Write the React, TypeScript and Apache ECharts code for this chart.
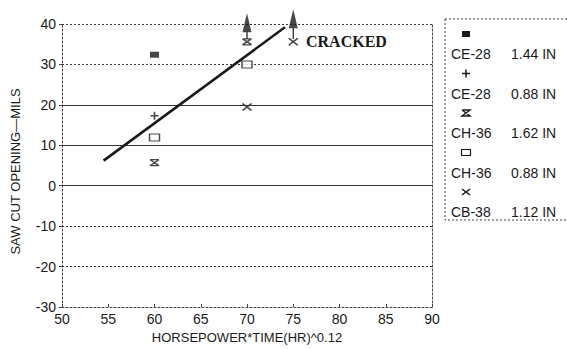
import React, { useEffect, useRef } from "react";
import * as echarts from "echarts";

// ---- data ----
const xTicks = [50, 55, 60, 65, 70, 75, 80, 85, 90];
const yTicks = [-30, -20, -10, 0, 10, 20, 30, 40];
const solidGridValues = [0, 10, 20];

const ce28_144 = [[60, 32.4]];
const ce28_088 = [[60, 17.3]];
const ch36_162 = [[60, 5.7], [70, 35.6]];
const ch36_088 = [[60, 11.9], [70, 30.0]];
const cb38_112 = [[70, 19.5], [75, 35.6]];
const fitLine = [[54.5, 6.2], [74.1, 39.2]];
const arrowStems = [
  [[70, 36.3], [70, 38.2]],
  [[75, 36.3], [75, 39.0]],
];
const arrowHeads = [[70, 40.3], [75, 41.3]];

const legendItems = [
  { label: "CE-28", size: "1.44 IN" },
  { label: "CE-28", size: "0.88 IN" },
  { label: "CH-36", size: "1.62 IN" },
  { label: "CH-36", size: "0.88 IN" },
  { label: "CB-38", size: "1.12 IN" },
];

const INK = "#1a1a1a";
const FONT = "'Liberation Sans', Arial, sans-serif";

const SYM_PLUS = "path://M5,0L5,10M0,5L10,5";
const SYM_HOURGLASS = "path://M0,0L10,0M0,10L10,10M0,0L10,10M10,0L0,10";
const SYM_X = "path://M0,0L10,10M10,0L0,10";

export default function App() {
  const ref = useRef<HTMLDivElement>(null);

  useEffect(() => {
    if (!ref.current) return;
    const chart = echarts.init(ref.current, null, { renderer: "svg" });

    const strokeStyle = (w: number) => ({
      color: "rgba(0,0,0,0)",
      borderColor: INK,
      borderWidth: w,
    });

    const legendGraphics: any[] = [
      {
        type: "rect",
        shape: { x: 445, y: 19, width: 140, height: 201 },
        style: { fill: "none", stroke: "#444", lineWidth: 1, lineDash: [2, 2] },
        silent: true,
      },
    ];
    const rowTop = 34;
    const rowGap = 39.5;
    legendItems.forEach((it, i) => {
      const sy = rowTop + i * rowGap;
      const ty = sy + 13;
      const sx = 466;
      if (i === 0) {
        legendGraphics.push({ type: "rect", shape: { x: sx - 4, y: sy - 3, width: 8, height: 6 }, style: { fill: INK } });
      } else if (i === 1) {
        legendGraphics.push({ type: "line", shape: { x1: sx - 4, y1: sy, x2: sx + 4, y2: sy }, style: { stroke: INK, lineWidth: 1.5 } });
        legendGraphics.push({ type: "line", shape: { x1: sx, y1: sy - 4, x2: sx, y2: sy + 4 }, style: { stroke: INK, lineWidth: 1.5 } });
      } else if (i === 2) {
        legendGraphics.push({ type: "polyline", shape: { points: [[sx - 4, sy - 3], [sx + 4, sy - 3], [sx - 4, sy + 3], [sx + 4, sy + 3], [sx - 4, sy - 3]] }, style: { stroke: INK, lineWidth: 1.4, fill: "none" } });
      } else if (i === 3) {
        legendGraphics.push({ type: "rect", shape: { x: sx - 4.5, y: sy - 3, width: 9, height: 6 }, style: { fill: "#fff", stroke: INK, lineWidth: 1.2 } });
      } else {
        legendGraphics.push({ type: "line", shape: { x1: sx - 4, y1: sy - 3, x2: sx + 4, y2: sy + 3 }, style: { stroke: INK, lineWidth: 1.5 } });
        legendGraphics.push({ type: "line", shape: { x1: sx + 4, y1: sy - 3, x2: sx - 4, y2: sy + 3 }, style: { stroke: INK, lineWidth: 1.5 } });
      }
      legendGraphics.push({
        type: "text",
        x: 451,
        y: ty,
        style: { text: it.label, font: `14px ${FONT}`, fill: INK, verticalAlign: "top" },
      });
      legendGraphics.push({
        type: "text",
        x: 511,
        y: ty,
        style: { text: it.size, font: `14px ${FONT}`, fill: INK, verticalAlign: "top" },
      });
    });

    legendGraphics.push({
      type: "text",
      x: 306,
      y: 33,
      style: {
        text: "CRACKED",
        font: `bold 16px 'Liberation Serif', 'DejaVu Serif', serif`,
        fill: INK,
        verticalAlign: "top",
      },
    });

    const option: any = {
      animation: false,
      backgroundColor: "#fff",
      grid: { left: 62, right: 135, top: 24, bottom: 41, containLabel: false },
      xAxis: {
        type: "value",
        min: xTicks[0],
        max: xTicks[xTicks.length - 1],
        interval: 5,
        name: "HORSEPOWER*TIME(HR)^0.12",
        nameLocation: "middle",
        nameGap: 24,
        nameTextStyle: { color: INK, fontSize: 13, fontFamily: FONT },
        axisLine: { show: true, onZero: false, lineStyle: { color: "#444", type: [2, 2] } },
        axisTick: { show: true, inside: true, length: 3, lineStyle: { color: "#444" } },
        axisLabel: { color: INK, fontSize: 14, fontFamily: FONT, margin: 5 },
        splitLine: { show: false },
      },
      yAxis: [
        {
          type: "value",
          min: yTicks[0],
          max: yTicks[yTicks.length - 1],
          interval: 10,
          name: "SAW CUT OPENING\u2014MILS",
          nameLocation: "middle",
          nameGap: 40,
          nameRotate: 90,
          nameTextStyle: { color: INK, fontSize: 13, fontFamily: FONT, padding: [0, 12, 0, 0] },
          axisLine: { show: true, lineStyle: { color: "#444", type: [2, 2] } },
          axisTick: { show: true, length: 3, lineStyle: { color: "#444" } },
          axisLabel: { color: INK, fontSize: 14, fontFamily: FONT, margin: 6 },
          splitLine: { show: true, lineStyle: { color: "#333", type: [2, 2], width: 1 } },
        },
        {
          type: "value",
          position: "right",
          min: yTicks[0],
          max: yTicks[yTicks.length - 1],
          interval: 10,
          axisLine: { show: true, lineStyle: { color: "#444", type: [2, 2] } },
          axisTick: { show: false },
          axisLabel: { show: false },
          splitLine: { show: false },
        },
      ],
      graphic: legendGraphics,
      series: [
        {
          type: "line",
          data: fitLine,
          symbol: "none",
          lineStyle: { color: INK, width: 2.6 },
          z: 5,
          markLine: {
            silent: true,
            symbol: "none",
            label: { show: false },
            lineStyle: { color: "#333", type: "solid", width: 1 },
            data: solidGridValues.map((v) => ({ yAxis: v })),
          },
        },
        ...arrowStems.map((s) => ({
          type: "line",
          data: s,
          symbol: "none",
          clip: false,
          lineStyle: { color: INK, width: 1.2 },
        })),
        {
          type: "scatter",
          data: arrowHeads,
          symbol: "triangle",
          symbolSize: [9, 19],
          clip: false,
          itemStyle: { color: INK },
        },
        { name: "CE-28 1.44 IN", type: "scatter", data: ce28_144, symbol: "rect", symbolSize: [9, 6], itemStyle: { color: INK } },
        { name: "CE-28 0.88 IN", type: "scatter", data: ce28_088, symbol: SYM_PLUS, symbolSize: [8, 8], itemStyle: strokeStyle(1.6) },
        { name: "CH-36 1.62 IN", type: "scatter", data: ch36_162, symbol: SYM_HOURGLASS, symbolSize: [9, 6], clip: false, itemStyle: strokeStyle(1.5) },
        { name: "CH-36 0.88 IN", type: "scatter", data: ch36_088, symbol: "rect", symbolSize: [10, 7], itemStyle: { color: "#fff", borderColor: INK, borderWidth: 1.2 }, z: 6 },
        { name: "CB-38 1.12 IN", type: "scatter", data: cb38_112, symbol: SYM_X, symbolSize: [9, 7], clip: false, itemStyle: strokeStyle(1.6) },
      ],
    };

    chart.setOption(option);
    return () => chart.dispose();
  }, []);

  return <div ref={ref} style={{ width: 567, height: 349, position: "absolute", left: 0, top: 0 }} />;
}
